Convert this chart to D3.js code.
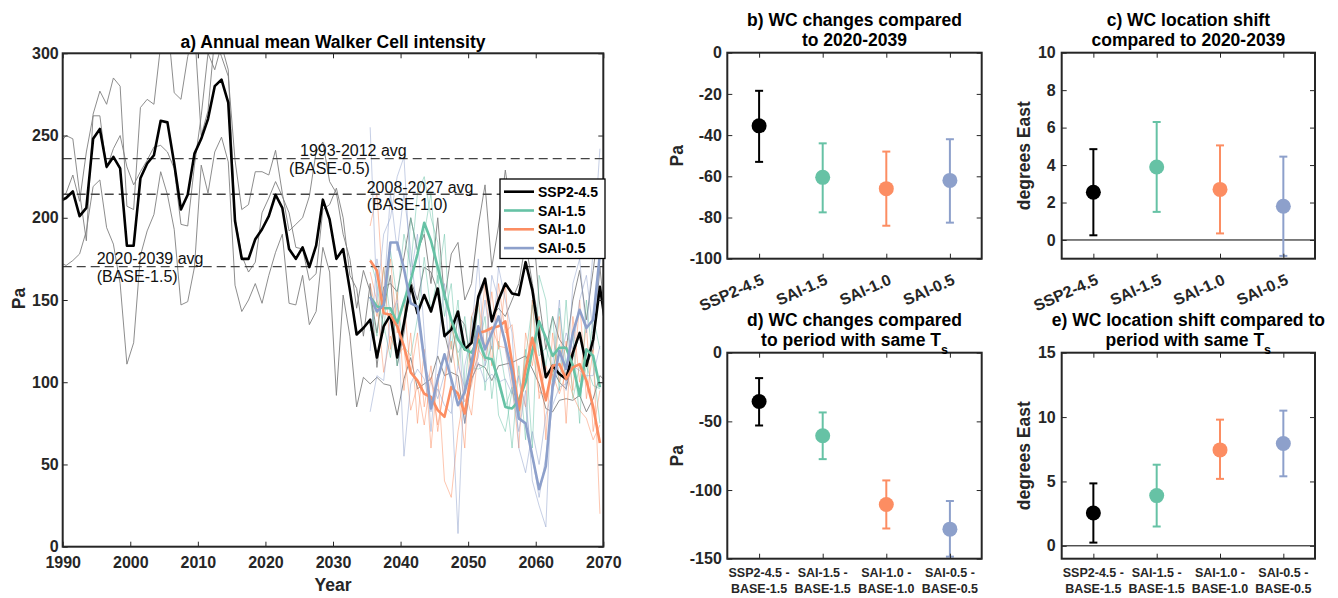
<!DOCTYPE html>
<html><head><meta charset="utf-8">
<script src="https://cdn.jsdelivr.net/npm/d3@7"></script>
<style>body{margin:0;background:#fff} text{font-family:"Liberation Sans",Arial,sans-serif}</style>
</head><body><svg id="c" width="1338" height="598"></svg>
<script>
// ---------------- DATA ----------------
const histYears = d3.range(1989, 2071);   // plotted at mid-year
const saiYears = d3.range(2035, 2070);

const ssp245Mean = [210,
 212,216,201,206,248,254,231,237,230,183,
 183,224,233,238,259,258,233,205,214,239,
 248,260,280,284,270,198,175,175,187,193,
 201,214,206,181,175,182,170,183,211,199,
 175,181,156,129,133,138,115,134,141,115,
 136,159,142,153,143,157,128,132,143,120,
 124,152,163,137,150,160,154,153,173,156,
 128,103,110,105,102,118,130,110,126,158,
 130];
const ssp245MemberA = [245,
 250,248,215,186,263,277,269,285,280,207,
 205,267,272,269,305,320,276,272,298,315,
 250,265,310,298,286,235,205,208,228,228,
 226,241,215,192,196,200,213,240,246,222,
 215,190,175,145,168,155,130,158,160,155,
 176,200,180,190,160,200,150,178,185,150,
 160,195,220,170,195,229,200,185,218,200,
 150,120,140,126,120,150,168,138,168,200,
 160];
const ssp245MemberB = [212,
 215,226,210,240,262,262,230,242,250,231,
 220,228,235,243,244,240,230,196,195,232,
 262,300,290,305,290,200,177,167,173,203,
 212,222,213,203,182,181,162,166,205,208,
 218,200,165,157,128,160,109,145,165,110,
 130,162,150,170,167,155,130,112,140,135,
 110,150,160,140,145,140,150,160,185,160,
 135,105,108,100,96,115,130,110,120,170,
 130];
const ssp245MemberC = [173,
 171,174,178,192,219,223,194,184,160,111,
 124,177,192,202,228,214,193,147,149,170,
 232,215,240,249,234,159,143,150,160,148,
 165,179,190,148,147,165,135,143,182,167,
 92,153,128,85,103,99,103,99,98,80,
 102,115,96,99,102,116,104,106,104,75,
 102,111,109,101,110,111,112,114,116,108,
 99,84,82,89,90,89,92,82,90,104,
 100];

const sai15Mean = [152,146,145,145,136,149,162,178,197,186,170,153,138,126,120,118,126,115,114,101,85,84,89,100,119,137,127,116,121,121,110,92,120,116,97];
const sai15Member1 = [175,160,130,180,150,190,170,215,225,200,185,140,160,110,140,105,150,95,130,80,70,95,80,120,60,165,150,100,145,110,130,75,150,110,75];
const sai15Member2 = [150,128,170,140,110,135,200,180,190,215,160,190,120,150,95,140,120,140,90,125,100,60,110,65,150,130,110,140,95,150,90,110,100,140,120];
const sai15Member3 = [131,150,135,115,148,122,116,139,176,143,165,129,134,118,125,109,108,110,122,98,85,97,77,115,147,116,121,108,123,103,110,91,110,98,96];

const sai10Mean = [174,168,142,141,134,122,106,101,93,91,83,79,97,93,81,106,130,131,133,134,137,112,83,108,127,108,89,110,111,102,109,111,101,85,63];
const sai10Member1 = [195,215,150,175,130,150,105,130,85,110,70,100,125,95,60,140,150,120,155,120,160,100,60,130,110,140,65,130,100,125,95,150,90,120,20];
const sai10Member2 = [160,140,170,120,155,95,130,75,120,60,105,40,30,70,95,80,120,160,110,160,130,135,100,85,150,90,110,95,140,75,140,100,135,70,95];
const sai10Member3 = [167,149,106,128,117,121,83,98,74,103,74,97,136,114,88,98,120,113,134,122,121,101,89,109,121,94,92,105,93,106,92,83,78,65,74];

const sai05Mean = [152,143,147,185,185,169,148,146,114,84,102,117,102,86,94,112,134,120,130,140,124,106,78,75,55,35,49,97,119,108,130,144,133,138,178];
const sai05Member1 = [255,150,190,200,225,237,165,190,130,70,120,160,95,8,110,130,175,110,165,150,120,95,70,95,40,25,12,110,150,95,160,175,130,180,242];
const sai05Member2 = [119,175,150,215,180,215,180,140,110,100,90,105,130,140,75,105,115,150,120,170,150,130,60,45,70,50,80,95,110,130,120,150,165,130,170];
const sai05Member3 = [82,104,101,140,150,55,99,108,102,82,96,86,81,110,97,101,112,100,105,100,102,93,104,85,55,30,55,86,97,99,110,107,104,104,122];

const baselineValues = [236, 214.3, 170.3];
const baselineLabels = [["1993-2012 avg","(BASE-0.5)"],["2008-2027 avg","(BASE-1.0)"],["2020-2039 avg","(BASE-1.5)"]];

const scenarios = ["SSP2-4.5","SAI-1.5","SAI-1.0","SAI-0.5"];
const colors = ["#000000","#66c2a5","#fc8d62","#8da0cb"];
const memberColor = "#808080";

const bMean = [-35.5,-60.5,-66,-62], bLow = [-53,-77.5,-84,-82.5], bHigh = [-18.5,-44,-48,-42];
const cMean = [2.55,3.9,2.7,1.8], cLow = [0.25,1.5,0.35,-0.85], cHigh = [4.85,6.3,5.05,4.45];
const dMean = [-35.5,-60.5,-110.5,-128.5], dLow = [-53,-77.5,-128,-148.5], dHigh = [-18.5,-43.5,-93,-108];
const eMean = [2.55,3.9,7.45,7.95], eLow = [0.25,1.5,5.2,5.4], eHigh = [4.85,6.3,9.8,10.5];
const diffLabels = [["SSP2-4.5 -","BASE-1.5"],["SAI-1.5 -","BASE-1.5"],["SAI-1.0 -","BASE-1.0"],["SAI-0.5 -","BASE-0.5"]];

const yearTicks = [1990,2000,2010,2020,2030,2040,2050,2060,2070];
const paTicks = [0,50,100,150,200,250,300];

// ---------------- DRAW ----------------
const svg = d3.select("#c");
const AX = "#262626";
const fmt = d => String(d);

function styleAxis(sel, fs) {
  sel.select(".domain").remove();
  sel.selectAll(".tick line").attr("stroke", AX).attr("stroke-width", 1);
  sel.selectAll("text").attr("fill", AX).attr("font-size", fs || 16).attr("font-weight", "bold")
     .attr("font-family", '"Liberation Sans",Arial,sans-serif');
}

function frame(g, x, y, box, o) {
  g.append("g").attr("transform", `translate(${box.l},0)`)
    .call(d3.axisLeft(y).tickValues(o.yTicks).tickSize(-5).tickPadding(o.yPad).tickFormat(fmt)).call(styleAxis);
  g.append("g").attr("transform", `translate(${box.r},0)`)
    .call(d3.axisRight(y).tickValues(o.yTicks).tickSize(-5).tickFormat("")).call(styleAxis);
  const bx = g.append("g").attr("class","xax").attr("transform", `translate(0,${box.b})`)
    .call(d3.axisBottom(x).tickValues(o.xTicks).tickSize(-5).tickPadding(o.xPad).tickFormat(o.xFmt)).call(styleAxis);
  g.append("g").attr("transform", `translate(0,${box.t})`)
    .call(d3.axisTop(x).tickValues(o.xTicks).tickSize(-5).tickFormat("")).call(styleAxis);
  g.append("rect").attr("x", box.l).attr("y", box.t).attr("width", box.r - box.l).attr("height", box.b - box.t)
    .attr("fill", "none").attr("stroke", AX).attr("stroke-width", 2);
  return bx;
}

// ---- Panel a ----
const A = {l: 62.7, r: 603.3, t: 53.3, b: 546.7};
const xA = d3.scaleLinear().domain([1990, 2070]).range([A.l, A.r]);
const yA = d3.scaleLinear().domain([0, 300]).range([A.b, A.t]);
const ga = svg.append("g");
svg.append("clipPath").attr("id", "clipA").append("rect")
  .attr("x", A.l).attr("y", A.t).attr("width", A.r - A.l).attr("height", A.b - A.t);
const plotA = ga.append("g").attr("clip-path", "url(#clipA)");

const lineFor = yrs => d3.line().x((d, i) => xA(yrs[i] + 0.5)).y(d => yA(d));

[ssp245MemberA, ssp245MemberB, ssp245MemberC].forEach(m =>
  plotA.append("path").attr("d", lineFor(histYears)(m)).attr("fill", "none")
    .attr("stroke", memberColor).attr("stroke-width", 0.9));
[[sai15Member1, sai15Member2, sai15Member3, colors[1]],
 [sai10Member1, sai10Member2, sai10Member3, colors[2]],
 [sai05Member1, sai05Member2, sai05Member3, colors[3]]].forEach(s => {
  s.slice(0, 3).forEach(m => plotA.append("path").attr("d", lineFor(saiYears)(m)).attr("fill", "none")
    .attr("stroke", s[3]).attr("stroke-opacity", 0.5).attr("stroke-width", 1));
});

baselineValues.forEach(v => plotA.append("line").attr("x1", A.l).attr("x2", A.r)
  .attr("y1", yA(v)).attr("y2", yA(v)).attr("stroke", "#444").attr("stroke-width", 1.3)
  .attr("stroke-dasharray", "9,5"));

const means = [[ssp245Mean, histYears], [sai15Mean, saiYears], [sai10Mean, saiYears], [sai05Mean, saiYears]];
means.forEach((m, i) => plotA.append("path").attr("d", lineFor(m[1])(m[0])).attr("fill", "none")
  .attr("stroke", colors[i]).attr("stroke-width", 2.6).attr("stroke-linejoin", "round"));

// annotations
const annPos = [[[300, 156], [289, 174]], [[366.7, 193], [366.7, 210]], [[96.7, 264], [96.7, 282]]];
baselineLabels.forEach((lab, i) => lab.forEach((t, j) =>
  ga.append("text").attr("x", annPos[i][j][0]).attr("y", annPos[i][j][1]).attr("font-size", 16)
    .attr("fill", "#111").text(t)));

frame(ga, xA, yA, A, {yTicks: paTicks, xTicks: yearTicks, yPad: 4, xPad: 10, xFmt: fmt});

ga.append("text").attr("x", 333).attr("y", 47.5).attr("text-anchor", "middle").attr("font-size", 17.5)
  .attr("font-weight", "bold").text("a) Annual mean Walker Cell intensity");
ga.append("text").attr("x", 333).attr("y", 591).attr("text-anchor", "middle").attr("font-size", 17.5)
  .attr("font-weight", "bold").attr("fill", AX).text("Year");
ga.append("text").attr("transform", "translate(25,298.5) rotate(-90)").attr("text-anchor", "middle")
  .attr("font-size", 17.5).attr("font-weight", "bold").attr("fill", AX).text("Pa");

// legend
const lg = ga.append("g");
lg.append("rect").attr("x", 500).attr("y", 179).attr("width", 105).attr("height", 79.5)
  .attr("fill", "#fff").attr("stroke", "#000").attr("stroke-width", 1.3);
scenarios.forEach((s, i) => {
  const yy = 191.7 + i * 18.8;
  lg.append("line").attr("x1", 504).attr("x2", 534).attr("y1", yy).attr("y2", yy)
    .attr("stroke", colors[i]).attr("stroke-width", 2.6);
  lg.append("text").attr("x", 538).attr("y", yy + 5).attr("font-size", 14).attr("font-weight", "bold").text(s);
});

// ---- Error bar panels ----
function errPanel(box, dom, ticks, mean, low, high, titleLines, ylabel, ylabX, zeroLine, labelMode, yPad) {
  const g = svg.append("g");
  const x = d3.scaleLinear().domain([0.5, 4.5]).range([box.l, box.r]);
  const y = d3.scaleLinear().domain(dom).range([box.b, box.t]);
  const idx = [1, 2, 3, 4];
  if (zeroLine) g.append("line").attr("x1", box.l).attr("x2", box.r).attr("y1", y(0)).attr("y2", y(0))
    .attr("stroke", "#000").attr("stroke-width", 1);
  mean.forEach((m, i) => {
    const cx = x(i + 1), c = colors[i];
    g.append("line").attr("x1", cx).attr("x2", cx).attr("y1", y(low[i])).attr("y2", y(high[i]))
      .attr("stroke", c).attr("stroke-width", 2);
    [low[i], high[i]].forEach(v => g.append("line").attr("x1", cx - 4).attr("x2", cx + 4)
      .attr("y1", y(v)).attr("y2", y(v)).attr("stroke", c).attr("stroke-width", 2));
    g.append("circle").attr("cx", cx).attr("cy", y(m)).attr("r", 7.5).attr("fill", c);
  });
  frame(g, x, y, box, {yTicks: ticks, xTicks: idx, yPad: yPad, xPad: 8, xFmt: ""});
  if (labelMode === "rot") {
    idx.forEach((k, i) => g.append("text").attr("transform", `translate(${x(k) + 6},${box.b + 25}) rotate(-24)`)
      .attr("text-anchor", "end").attr("font-size", 16).attr("font-weight", "bold").attr("fill", AX).text(scenarios[i]));
  } else {
    idx.forEach((k, i) => diffLabels[i].forEach((t, j) => g.append("text").attr("x", x(k))
      .attr("y", box.b + 18.5 + j * 15.5).attr("text-anchor", "middle").attr("font-size", 12.5)
      .attr("font-weight", "bold").attr("fill", AX).text(t)));
  }
  const cxm = (box.l + box.r) / 2;
  titleLines.forEach((t, j) => {
    const tt = g.append("text").attr("x", cxm).attr("y", box.t - 27 + j * 20.5).attr("text-anchor", "middle")
      .attr("font-size", 17.5).attr("font-weight", "bold");
    if (t.endsWith("_s")) {
      tt.append("tspan").text(t.slice(0, -2));
      tt.append("tspan").attr("font-size", 12.5).attr("dy", 8).text("s");
    } else tt.text(t);
  });
  g.append("text").attr("transform", `translate(${ylabX},${(box.t + box.b) / 2}) rotate(-90)`)
    .attr("text-anchor", "middle").attr("font-size", 17.5).attr("font-weight", "bold").attr("fill", AX).text(ylabel);
}

errPanel({l: 727.3, r: 981.7, t: 52.7, b: 258.7}, [-100, 0], [-100, -80, -60, -40, -20, 0], bMean, bLow, bHigh,
  ["b) WC changes compared", "to 2020-2039"], "Pa", 683, false, "rot", 5.5);
errPanel({l: 1061.7, r: 1315, t: 52.7, b: 258.7}, [-1, 10], [0, 2, 4, 6, 8, 10], cMean, cLow, cHigh,
  ["c) WC location shift", "compared to 2020-2039"], "degrees East", 1030, true, "rot", 6);
errPanel({l: 727.3, r: 981.7, t: 352.7, b: 558.7}, [-150, 0], [-150, -100, -50, 0], dMean, dLow, dHigh,
  ["d) WC changes compared", "to period with same T_s"], "Pa", 683, false, "two", 5.5);
errPanel({l: 1061.7, r: 1315, t: 352.7, b: 558.7}, [-1, 15], [0, 5, 10, 15], eMean, eLow, eHigh,
  ["e) WC location shift compared to", "period with same T_s"], "degrees East", 1030, true, "two", 6);
</script></body></html>
